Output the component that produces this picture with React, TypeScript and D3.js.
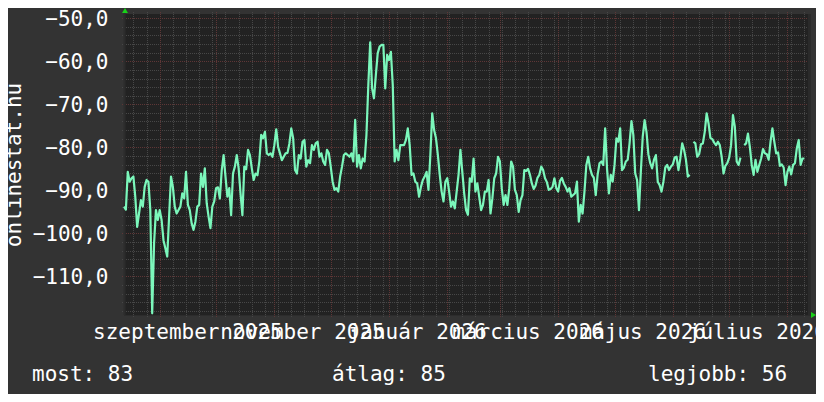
import React from 'react';
import * as d3 from 'd3';

// one value per day, starting at the left edge of the chart
const startDate = new Date(2025, 7, 13);
const endDate = new Date(2026, 7, 13);

const values: (number | null)[] = [
  -93.8, -94.5, -85.7, -88.0, -87.2, -86.8, -91.5, -98.5, -95.4, -92.3,
  -93.8, -89.2, -87.6, -88.0, -94.6, -118.6, -102.3, -94.6, -96.9, -94.6,
  -96.9, -101.6, -103.5, -105.4, -96.1, -86.8, -89.2, -93.8, -95.4, -94.6,
  -93.8, -90.7, -91.9, -85.7, -93.4, -94.6, -97.7, -99.2, -97.3, -93.8,
  -93.4, -86.1, -89.2, -84.9, -93.0, -96.1, -98.8, -93.8, -92.6, -89.5,
  -89.3, -91.9, -85.3, -81.8, -86.8, -91.5, -89.5, -95.8, -86.1, -84.5,
  -81.8, -84.9, -90.7, -95.8, -84.5, -85.1, -80.6, -81.8, -84.9, -87.6,
  -86.1, -86.5, -83.3, -77.1, -77.9, -76.4, -81.4, -81.8, -81.4, -82.2,
  -79.5, -75.8, -79.9, -81.4, -83.0, -82.2, -81.4, -81.3, -79.1, -75.6,
  -77.9, -85.3, -86.1, -81.8,
  -82.6, -78.7, -78.3, -84.5, -83.0, -83.7, -79.5, -80.6, -79.1, -78.7,
  -82.2, -81.4, -83.3, -84.1, -80.6, -81.4, -84.5, -88.0, -89.9, -89.5,
  -90.3, -86.8, -84.5, -81.8, -81.4, -81.8, -82.2, -81.4, -83.3, -73.6,
  -84.5, -81.8, -84.9, -82.6, -83.3, -77.1, -65.5, -55.6, -66.3, -68.6,
  -63.2, -58.1, -56.6, -56.2, -56.2, -66.3, -58.5, -59.7, -57.8, -65.5,
  -83.3, -80.6, -83.0, -79.5, -79.5, -79.5, -78.3, -75.6, -79.5, -86.4,
  -86.1, -88.0, -88.4, -91.5, -89.2, -87.6, -86.8, -85.7, -89.9, -81.8,
  -72.1, -76.0, -77.9, -81.8, -86.4, -90.3, -92.6, -88.0, -87.2, -90.3,
  -93.8, -92.6, -94.2, -90.3, -86.4, -80.6, -85.7, -90.7, -94.6, -95.7,
  -87.2, -88.0, -82.6, -90.3, -88.4, -91.5, -94.6, -93.4, -90.3, -90.3,
  -87.6, -95.4, -91.9, -87.2, -86.1, -82.2, -83.3, -89.5, -93.4, -91.1,
  -93.4, -89.5, -83.3, -84.5, -89.9, -91.1, -95.0, -92.3, -91.1, -85.3,
  -85.5, -85.0, -86.4, -88.4, -89.7, -88.9, -87.1, -86.4, -84.5, -85.3,
  -87.2, -88.1, -89.9, -89.7, -89.2, -87.2, -89.5, -90.3, -87.8, -87.1,
  -88.4, -89.2, -90.3, -89.5, -91.5, -91.1, -90.7, -88.0, -97.3, -93.4,
  -95.4, -90.3, -84.1, -82.2, -84.9, -86.4, -87.1, -91.1, -86.4, -83.7,
  -83.3, -84.1, -75.6, -84.9, -90.7, -86.4, -88.0, -84.1, -77.9, -78.7,
  -75.6, -85.3, -84.7, -83.3, -82.9, -79.1, -73.9, -77.1, -86.1, -87.6,
  -94.6,
  -85.7, -77.5, -73.7, -76.4, -81.6, -83.7, -84.9, -82.9, -81.8, -88.0,
  -88.8, -90.3, -88.0, -84.7, -84.1, -85.3, -84.5, -84.0, -82.4, -82.2,
  -85.3, -82.6, -79.1, -80.6, -82.9, -86.8, -86.4, null, -78.7, -79.1,
  -82.2, -81.6, -79.3, -79.1, -76.4, -72.1, -74.4, -77.8, -78.1, -78.9,
  -79.5, -78.7, -79.5, -82.2, -86.1, -84.3, -83.7, -82.4, -79.5, -72.5,
  -75.2, -83.3, -84.1, -82.4, null, -79.5, -79.1, -76.8, -79.9, -84.1,
  -86.4, -82.9, -85.7, -84.1, -82.6, -80.4, -81.4, -81.6, -82.9, -78.7,
  -75.6, -78.7, -81.4, -81.2, -84.3, -84.0, -84.7, -88.8, -85.7, -84.5,
  -86.3, -84.1, -83.7, -80.2, -78.3, -84.1, -82.6, -82.6,
];

const labelMonths = [
  new Date(2025, 8, 1),
  new Date(2025, 10, 1),
  new Date(2026, 0, 1),
  new Date(2026, 2, 1),
  new Date(2026, 4, 1),
  new Date(2026, 6, 1),
];
const monthLabels = ['szeptember 2025', 'november 2025', 'január 2026', 'március 2026', 'május 2026', 'július 2026'];

const yMajor = [-50, -60, -70, -80, -90, -100, -110];
const yMinor = d3.range(-118, -49, 2);

const legendLabels = ['most', 'átlag', 'legjobb'];
const legendValues = [83, 85, 56];

const W = 824;
const H = 402;
const plot = { left: 124, right: 810, top: 14, bottom: 315 };
const font = "'DejaVu Sans Mono', monospace";

const x = d3.scaleTime().domain([startDate, endDate]).range([plot.left, plot.right]);
const y = d3.scaleLinear().domain([-119, -49]).range([plot.bottom, plot.top]);

const px = (v: number) => Math.round(v) + 0.5;

export default function App() {
  const points = values.map((v, i) => ({ date: d3.timeDay.offset(startDate, i), v }));
  const line = d3
    .line<{ date: Date; v: number | null }>()
    .defined((d) => d.v !== null)
    .x((d) => x(d.date))
    .y((d) => y(d.v as number));

  const weeks = d3.timeMonday.range(startDate, endDate);
  const months = d3.timeMonth.range(startDate, endDate);
  const legendX = [32, 332, 648];

  return (
    <svg width={W} height={H} style={{ display: 'block', margin: '-8px' }}>
      <rect width={W} height={H} fill="#333333" />
      <rect x={plot.left} y={plot.top} width={plot.right - plot.left} height={plot.bottom - plot.top} fill="#222222" />
      <rect x={plot.right - 2} y={plot.top} width={3} height={plot.bottom - plot.top} fill="#2a2a2a" />

      <g strokeWidth={1} strokeDasharray="1 1" fill="none">
        {yMinor.map((v) => (
          <line key={'hm' + v} x1={plot.left - 2} x2={plot.right - 2} y1={px(y(v))} y2={px(y(v))} stroke="#474747" />
        ))}
        {weeks.map((d) => (
          <line key={'vm' + +d} x1={px(x(d))} x2={px(x(d))} y1={plot.top - 2} y2={plot.bottom + 2} stroke="#474747" />
        ))}
        {yMajor.map((v) => (
          <line key={'hM' + v} x1={plot.left - 2} x2={plot.right - 2} y1={px(y(v))} y2={px(y(v))} stroke="#5e3636" />
        ))}
        {months.map((d) => (
          <line key={'vM' + +d} x1={px(x(d))} x2={px(x(d))} y1={plot.top - 2} y2={plot.bottom + 2} stroke="#5e3636" />
        ))}
      </g>

      <line x1={plot.left + 0.5} x2={plot.left + 0.5} y1={plot.bottom} y2={plot.top - 2} stroke="#2c2c2c" strokeWidth={2} />
      <line x1={plot.left} x2={plot.right + 2} y1={plot.bottom + 0.5} y2={plot.bottom + 0.5} stroke="#2c2c2c" />

      <path d={line(points) ?? ''} fill="none" stroke="#7bf7bb" strokeWidth={2.2} strokeLinejoin="round" />

      <polygon points="122,13 128,13 125,8" fill="#19d119" />
      <polygon points="811,312 811,318 816,315" fill="#19d119" />

      <g fill="#ffffff" fontFamily={font} fontSize={21}>
        {yMajor.map((v) => (
          <text key={'yl' + v} x={108.5} y={y(v) + 7.5} textAnchor="end">
            {d3.format('.1f')(v).replace('.', ',')}
          </text>
        ))}
        {labelMonths.map((d, i) => (
          <text key={'xl' + i} x={x(d3.timeDay.offset(d, 15))} y={339} textAnchor="middle">
            {monthLabels[i]}
          </text>
        ))}
        <text transform={`translate(21,165) rotate(-90)`} textAnchor="middle">
          onlinestat.hu
        </text>
        {legendLabels.map((l, i) => (
          <text key={'lg' + l} x={legendX[i]} y={381}>
            {`${l}: ${legendValues[i]}`}
          </text>
        ))}
      </g>
    </svg>
  );
}
